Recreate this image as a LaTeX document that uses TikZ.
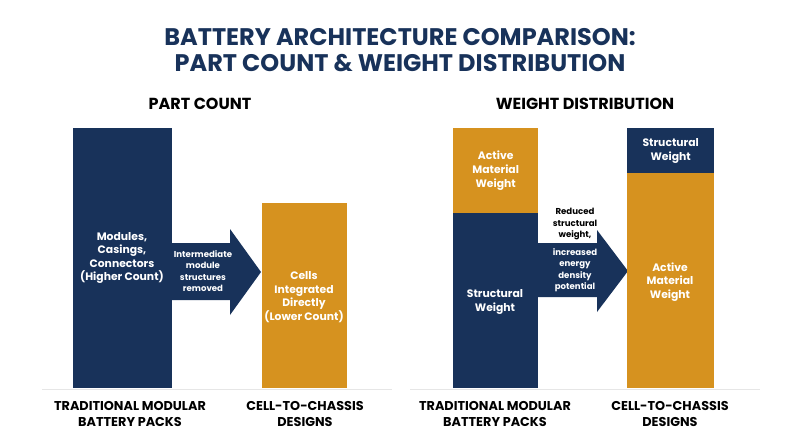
\documentclass[tikz,border=0pt]{standalone}
\usepackage{fontspec}
\setmainfont{Poppins}
\definecolor{navy}{HTML}{18325A}
\definecolor{gold}{HTML}{D6921F}
\definecolor{baseln}{HTML}{E6E6E6}
\begin{document}
\begin{tikzpicture}[x=1pt,y=-1pt,
  bartext/.style={text=white,font=\bfseries\fontsize{10.8}{13.6}\selectfont,align=center},
  arrtext/.style={text=white,font=\bfseries\fontsize{8.6}{11.5}\selectfont,align=center},
  axlabel/.style={text=black,font=\bfseries\fontsize{12.8}{16}\selectfont,align=center},
  header/.style={text=black,font=\bfseries\fontsize{16}{18}\selectfont},
  bigarrow/.style={fill=navy,draw=none}]
\useasboundingbox (0,0) rectangle (800,447);
\fill[white] (0,0) rectangle (800,447);
% title
\node[text=navy,font=\bfseries\fontsize{24}{25.5}\selectfont,align=center] (title) at (400,50) {BATTERY ARCHITECTURE COMPARISON:\\PART COUNT \& WEIGHT DISTRIBUTION};
% ===== left panel
\node[header] (hpc) at (200,104) {PART COUNT};
\draw[baseln,line width=1pt] (42,389.5) coordinate (bl1) -- (392,389.5) coordinate (bl2);
% arrow
\fill[bigarrow] (170,243) -- (230,243) -- (230,229) -- (261,272) -- (230,315) -- (230,300) -- (170,300) -- cycle;
\node[fill=navy,minimum width=99,minimum height=260,anchor=north west,inner sep=0] (tradbar) at (73,128) {};
\node[fill=gold,minimum width=85,minimum height=185,anchor=north west,inner sep=0] (ctcbar) at (262,203) {};
\node[bartext] (tradtxt) at (122,258) {Modules,\\Casings,\\Connectors\\(Higher Count)};
\node[bartext] (ctctxt) at (304,297) {Cells\\Integrated\\Directly\\(Lower Count)};
\node[arrtext] (arrtxt1) at (203,271) {Intermediate\\module\\structures\\removed};
\node[axlabel] (lab1) at (130,414) {TRADITIONAL MODULAR\\BATTERY PACKS};
\node[axlabel] (lab2) at (305,414) {CELL-TO-CHASSIS\\DESIGNS};
% ===== right panel
\node[header] (hwd) at (585,104) {WEIGHT DISTRIBUTION};
\draw[baseln,line width=1pt] (410,389.5) coordinate (bl3) -- (760,389.5) coordinate (bl4);
\fill[bigarrow] (536,243) -- (597,243) -- (597,230) -- (628,271) -- (597,312) -- (597,297) -- (536,297) -- cycle;
\node[fill=gold,minimum width=85,minimum height=85,anchor=north west,inner sep=0] (tam) at (453,128) {};
\node[fill=navy,minimum width=85,minimum height=175,anchor=north west,inner sep=0] (tsw) at (453,213) {};
\node[fill=navy,minimum width=87,minimum height=45,anchor=north west,inner sep=0] (csw) at (627,128) {};
\node[fill=gold,minimum width=87,minimum height=215,anchor=north west,inner sep=0] (cam) at (627,173) {};
\node[bartext] (tamtxt) at (tam) {Active\\Material\\Weight};
\node[bartext] (tswtxt) at (495,302) {Structural\\Weight};
\node[bartext] (cswtxt) at (csw) {Structural\\Weight};
\node[bartext] (camtxt) at (670,282) {Active\\Material\\Weight};
\node[arrtext,text=black] (arrtxt2a) at (575,224) {Reduced\\structural\\weight,};
\node[arrtext] (arrtxt2b) at (575,270) {increased\\energy\\density\\potential};
\node[axlabel] (lab3) at (495,414) {TRADITIONAL MODULAR\\BATTERY PACKS};
\node[axlabel] (lab4) at (670,414) {CELL-TO-CHASSIS\\DESIGNS};
\end{tikzpicture}
\end{document}
